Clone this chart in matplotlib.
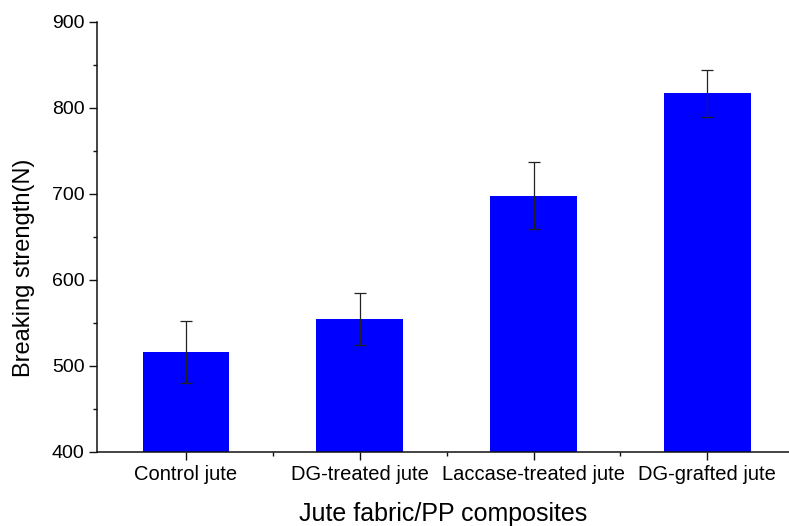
import matplotlib
matplotlib.use("Agg")
import matplotlib.pyplot as plt
from matplotlib.ticker import MultipleLocator, FixedLocator

plt.rcParams['font.family'] = ['Liberation Sans', 'DejaVu Sans']

categories = ["Control jute", "DG-treated jute", "Laccase-treated jute", "DG-grafted jute"]
strength = [516, 555, 698, 817]
errors = [36, 30, 39, 27]
y_ticks = [400, 500, 600, 700, 800, 900]

W, H = 789, 526
fig = plt.figure(figsize=(W / 100, H / 100), dpi=100)
left, right, top, bottom = 97, 789, 22, 452
ax = fig.add_axes([left / W, (H - bottom) / H, (right - left) / W, (bottom - top) / H])

x = list(range(len(categories)))
ax.bar(x, strength, width=0.5, color='#0000FF', edgecolor='none', zorder=2)
ax.errorbar(x, strength, yerr=errors, fmt='none', ecolor='#222222',
            elinewidth=0.9, capsize=4, capthick=0.9, zorder=3)

ax.set_xlim(-0.512, 3.47)
ax.set_ylim(400, 900)
ax.set_xticks(x)
ax.set_xticklabels(categories, fontsize=14.5)
ax.xaxis.set_minor_locator(FixedLocator([0.5, 1.5, 2.5]))
ax.set_yticks(y_ticks)
ax.set_yticklabels([str(v) for v in y_ticks], fontsize=14)
ax.yaxis.set_minor_locator(MultipleLocator(50))

for s in ['top', 'right']:
    ax.spines[s].set_visible(False)
for s in ['left', 'bottom']:
    ax.spines[s].set_linewidth(1.1)
    ax.spines[s].set_color('#111111')

ax.tick_params(which='major', direction='out', length=6, width=1.0, color='#111111', pad=3)
ax.tick_params(which='minor', direction='out', length=3, width=1.0, color='#111111')

ax.set_ylabel("Breaking strength(N)", fontsize=17)
ax.yaxis.set_label_coords(-0.09, 0.428)
ax.set_xlabel("Jute fabric/PP composites", fontsize=18, va='top')
ax.xaxis.set_label_coords(0.5, -0.116)

fig.savefig("out.png", dpi=100)
